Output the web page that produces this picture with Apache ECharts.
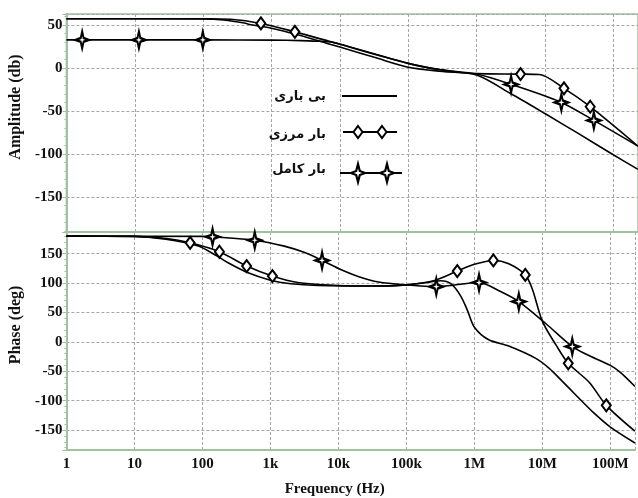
<!doctype html>
<html>
    <head>
        <meta charset="utf-8">
        <title>Bode plot</title>
        <style>
            html, body { margin: 0; padding: 0; background: #fff; }
            #main { width: 638px; height: 498px; }
        </style>
    </head>
    <body>
        <div id="main"></div>
        <script src="https://cdn.jsdelivr.net/npm/echarts@6/dist/echarts.min.js"></script>
        <script>
            var freqTickLabels = ['1', '10', '100', '1k', '10k', '100k', '1M', '10M', '100M'];
            var legendNames = ['بی باری', 'بار مرزی', 'بار کامل'];

            // amplitude (db) - no load / boundary load / full load
            var ampNoLoadFreq = [1, 100, 200, 400, 500, 1e3, 2.5e3, 7.4e3, 1e4, 3.2e4, 1e5, 3.2e5, 1e6, 3.2e6, 1e7, 3.2e7, 1e8, 2.3e8];
            var ampNoLoad = [57.5, 57.3, 56, 52.5, 50.5, 46.5, 38.5, 27.5, 24.5, 12.5, 1, -4, -8, -30, -53, -77, -101, -118];

            var ampBoundFreq = [1, 100, 250, 700, 2.2e3, 7.4e3, 1e5, 3e5, 1e6, 4.4e6, 8.3e6, 1.9e7, 4.6e7, 2.3e8];
            var ampBound = [57.5, 57.5, 56.8, 52, 42.2, 30.6, 5.5, -2, -6.5, -7, -7.5, -23.6, -45, -91];
            var ampBoundMarkFreq = [700, 2.2e3, 4.4e6, 1.9e7, 4.6e7];
            var ampBoundMark = [52, 42.2, -7, -23.6, -45];

            var ampFullFreq = [1, 100, 1e3, 2.7e3, 5e3, 7.4e3, 1e4, 1e5, 3e5, 1e6, 3.2e6, 1.74e7, 5.2e7, 2.3e8];
            var ampFull = [32.8, 32.8, 32.6, 32, 31.2, 30.5, 28, 5.5, -2, -7, -19, -40, -61, -91];
            var ampFullMarkFreq = [1.7, 11.5, 99, 3.2e6, 1.74e7, 5.2e7];
            var ampFullMark = [32.8, 32.8, 32.8, -19, -40, -61];

            // phase (deg)
            var phNoLoadFreq = [1, 10, 20, 40, 87, 160, 235, 460, 1e3, 2e3, 5e3, 3.2e4, 1e5, 2e5, 3.2e5, 4.5e5, 6.3e5, 8e5, 1e6, 1.6e6, 3.2e6, 8e6, 1.26e7, 2e7, 3.2e7, 5.6e7, 1e8, 2.3e8];
            var phNoLoad = [180, 179.5, 177, 172, 163, 147, 135, 118, 105, 99, 96, 95, 97, 101, 104, 99, 78, 52, 25, 4, -7, -28, -45, -68, -92, -120, -145, -172];

            var phBoundFreq = [1, 10, 30, 66, 178, 447, 1.07e3, 2.5e3, 1e4, 3.2e4, 1e5, 2.5e5, 5.6e5, 1e6, 1.9e6, 3.2e6, 5.6e6, 7.1e6, 1e7, 1.6e7, 2.4e7, 4.9e7, 8.7e7, 2.3e8];
            var phBound = [180, 179.5, 176, 168.6, 153.4, 129, 112, 101, 96, 95, 97, 104, 120.5, 132, 138.6, 133, 114, 90, 35, -6, -36.5, -69, -108, -152];
            var phBoundMarkFreq = [66, 178, 447, 1.07e3, 5.6e5, 1.9e6, 5.6e6, 2.4e7, 8.7e7];
            var phBoundMark = [168.6, 153.4, 129, 112, 120.5, 138.6, 114, -36.5, -108];

            var phFullFreq = [1, 100, 141, 589, 1.6e3, 3.2e3, 5.75e3, 1e4, 2e4, 3.9e4, 1e5, 2.75e5, 1.17e6, 2.3e6, 4.5e6, 1.15e7, 2.75e7, 5e7, 1e8, 1.4e8, 2.3e8];
            var phFull = [180, 179.5, 178.8, 173, 163, 152, 138.6, 125, 111, 102, 97, 94, 101, 87, 68.6, 30, -8, -24, -40, -52, -76];
            var phFullMarkFreq = [141, 589, 5.75e3, 2.75e5, 1.17e6, 4.5e6, 2.75e7];
            var phFullMark = [178.8, 173, 138.6, 94, 101, 68.6, -8];

            function pairs(f, v) {
                return f.map(function (x, i) { return [x, v[i]]; });
            }

            var chart = echarts.init(document.getElementById('main'));

            var green = '#9fc29f';
            var labelFont = { fontFamily: 'Liberation Serif', fontWeight: 'bold', fontSize: 15, color: '#111' };
            var gridLine = { show: true, lineStyle: { color: '#a6a6a6', type: [3, 2], width: 1 } };
            var starPath = 'path://M0,-10 L2.2,-2.2 L10,0 L2.2,2.2 L0,10 L-2.2,2.2 L-10,0 L-2.2,-2.2 Z';

            function xAxis(idx, showLabels) {
                return {
                    type: 'log', logBase: 10, gridIndex: idx, min: 1, max: 2.3e8,
                    axisLine: { show: true, onZero: false, lineStyle: { color: green, width: 2 } },
                    axisTick: { show: false },
                    splitLine: gridLine,
                    axisLabel: Object.assign({
                        show: showLabels, margin: 7,
                        formatter: function (v) {
                            var e = Math.round(Math.log10(v));
                            return Math.abs(Math.log10(v) - e) < 1e-6 ? freqTickLabels[e] : '';
                        }
                    }, labelFont),
                    name: showLabels ? 'Frequency (Hz)' : '',
                    nameLocation: 'middle', nameGap: 32,
                    nameTextStyle: { fontFamily: 'Liberation Serif', fontWeight: 'bold', fontSize: 15, color: '#111', padding: [0, 32, 0, 0] }
                };
            }

            function yAxis(idx, min, max, split, name) {
                return {
                    type: 'value', gridIndex: idx, min: min, max: max, splitNumber: split,
                    axisLine: { show: true, onZero: false, lineStyle: { color: green, width: 2 } },
                    axisTick: { show: true, length: 4, lineStyle: { color: green } },
                    minorTick: { show: true, splitNumber: 5, length: 2, lineStyle: { color: green } },
                    splitLine: gridLine,
                    axisLabel: Object.assign({
                        margin: 4,
                        formatter: function (v) { return v % 50 === 0 ? String(v) : ''; }
                    }, labelFont),
                    name: name, nameLocation: 'middle', nameGap: 35,
                    nameTextStyle: { fontFamily: 'Liberation Serif', fontWeight: 'bold', fontSize: 16, color: '#111', padding: [0, 0, 0, 32] }
                };
            }

            function curve(data, xi) {
                return {
                    type: 'line', xAxisIndex: xi, yAxisIndex: xi, data: data,
                    showSymbol: false, symbol: 'none', smooth: 0.3,
                    lineStyle: { color: '#000', width: 1.6 }, z: 2
                };
            }

            function marks(data, xi, kind) {
                var star = kind === 'star';
                return {
                    type: 'scatter', xAxisIndex: xi, yAxisIndex: xi, data: data,
                    symbol: star ? starPath : 'diamond',
                    symbolSize: star ? [13, 17] : [9, 12],
                    itemStyle: { color: '#fff', borderColor: '#000', borderWidth: star ? 2.2 : 2, opacity: 1 },
                    z: 5
                };
            }

            // legend drawn by hand: text + line sample with two markers
            function legendDiamond(x, y) {
                return { type: 'polygon', shape: { points: [[x, y - 6], [x + 4.5, y], [x, y + 6], [x - 4.5, y]] },
                    style: { fill: '#fff', stroke: '#000', lineWidth: 2 }, z: 10 };
            }
            function legendStar(x, y) {
                return { type: 'polygon', shape: { points: [[x, y - 9], [x + 1.8, y - 2], [x + 7, y], [x + 1.8, y + 2], [x, y + 9], [x - 1.8, y + 2], [x - 7, y], [x - 1.8, y - 2]] },
                    style: { fill: '#fff', stroke: '#000', lineWidth: 2.2 }, z: 10 };
            }
            function legendText(t, y) {
                return { type: 'text', x: 326, y: y, z: 10,
                    style: { text: t, align: 'right', verticalAlign: 'middle', fill: '#111', font: 'bold 13px "DejaVu Sans"' } };
            }
            function legendLine(x1, x2, y) {
                return { type: 'line', shape: { x1: x1, y1: y, x2: x2, y2: y }, style: { stroke: '#000', lineWidth: 2 }, z: 9 };
            }

            chart.setOption({
                animation: false,
                backgroundColor: '#fff',
                grid: [
                    { left: 63, right: -2, top: 14, height: 218, show: true, borderColor: green, borderWidth: 1.5 },
                    { left: 63, right: -2, top: 232, bottom: 47 }
                ],
                xAxis: [xAxis(0, false), xAxis(1, true)],
                yAxis: [
                    yAxis(0, -191, 63, 5, 'Amplitude (db)'),
                    yAxis(1, -184, 187, 7, 'Phase (deg)')
                ],
                series: [
                    curve(pairs(ampNoLoadFreq, ampNoLoad), 0),
                    curve(pairs(ampBoundFreq, ampBound), 0),
                    curve(pairs(ampFullFreq, ampFull), 0),
                    marks(pairs(ampBoundMarkFreq, ampBoundMark), 0, 'diamond'),
                    marks(pairs(ampFullMarkFreq, ampFullMark), 0, 'star'),
                    curve(pairs(phNoLoadFreq, phNoLoad), 1),
                    curve(pairs(phBoundFreq, phBound), 1),
                    curve(pairs(phFullFreq, phFull), 1),
                    marks(pairs(phBoundMarkFreq, phBoundMark), 1, 'diamond'),
                    marks(pairs(phFullMarkFreq, phFullMark), 1, 'star')
                ],
                graphic: [
                    legendText(legendNames[0], 97),
                    legendLine(342, 397, 96),
                    legendText(legendNames[1], 135),
                    legendLine(343, 397, 132),
                    legendDiamond(358, 132),
                    legendDiamond(382, 132),
                    legendText(legendNames[2], 170),
                    legendLine(340, 402, 173),
                    legendStar(358, 173),
                    legendStar(387, 173)
                ]
            });

            window.addEventListener('resize', function () {
                chart.resize();
            });
        </script>
    </body>
</html>
